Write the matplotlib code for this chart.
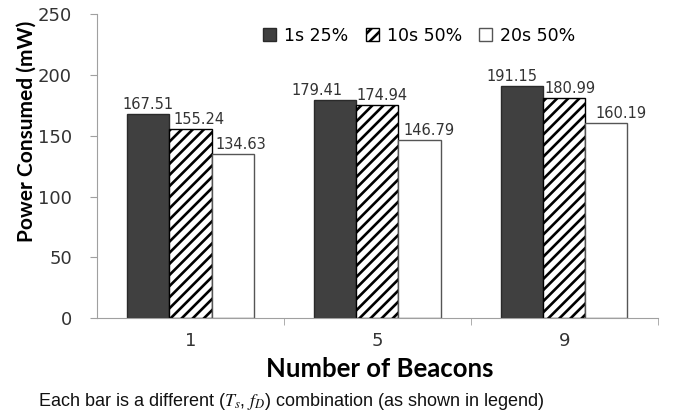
import numpy as np
import matplotlib.pyplot as plt

# data
beacons = ["1", "5", "9"]
series_names = ["1s 25%", "10s 50%", "20s 50%"]
power_1s_25 = [167.51, 179.41, 191.15]
power_10s_50 = [155.24, 174.94, 180.99]
power_20s_50 = [134.63, 146.79, 160.19]

# horizontal nudges of the value labels (pixels), one row per series
label_nudge = [[0, -18, -10], [8, 5, 6], [8, 10, 15]]

plt.rcParams["mathtext.fontset"] = "stix"
plt.rcParams["hatch.linewidth"] = 1.9

fig = plt.figure(figsize=(6.74, 4.17), dpi=100)
ax = fig.add_axes([0.144, 0.237, 0.832, 0.729])

x = np.arange(len(beacons))
w = 0.225
styles = [
    dict(color="#404040", edgecolor="#2a2a2a", hatch=None),
    dict(color="white", edgecolor="black", hatch="///"),
    dict(color="white", edgecolor="#555555", hatch=None),
]
all_vals = [power_1s_25, power_10s_50, power_20s_50]
for i, (vals, name, st) in enumerate(zip(all_vals, series_names, styles)):
    pos = x + (i - 1) * w
    ax.bar(pos, vals, width=w, label=name, linewidth=1.0, **st)
    for p, v, dx in zip(pos, vals, label_nudge[i]):
        ax.annotate(f"{v:.2f}", (p, v), xytext=(dx, 2), textcoords="offset pixels",
                    ha="center", va="bottom", fontsize=10.5, color="#333333")

ax.set_xlim(-0.5, 2.5)
ax.set_ylim(0, 250)
ax.set_yticks(range(0, 251, 50))
ax.set_xticks(x)
ax.set_xticklabels(beacons)
ax.set_xticks([0.5, 1.5, 2.5], minor=True)
ax.tick_params(axis="x", which="major", length=0, pad=10, labelsize=13, labelcolor="#333333")
ax.tick_params(axis="x", which="minor", length=5, color="#a0a0a0")
ax.tick_params(axis="y", length=5, color="#a0a0a0", labelsize=13, labelcolor="#333333", pad=13)

for s in ["top", "right"]:
    ax.spines[s].set_visible(False)
for s in ["left", "bottom"]:
    ax.spines[s].set_color("#a0a0a0")

ax.set_ylabel("Power Consumed (mW)", fontsize=15, fontweight="bold", family="Lato")
ax.yaxis.set_label_coords(-0.125, 0.615)
ax.yaxis.label.set_va("center")
ax.set_xlabel("Number of Beacons", fontsize=18.5, fontweight="bold", family="Lato")
ax.xaxis.set_label_coords(0.505, -0.168)
ax.xaxis.label.set_va("center")

fig.legend(loc="center", bbox_to_anchor=(0.622, 0.914), ncol=3, frameon=False,
           fontsize=12.5, handlelength=0.75, handleheight=0.75, handletextpad=0.45,
           columnspacing=1.0, borderpad=0)

fig.text(0.057, 0.036, r"Each bar is a different ($T_s$, $f_D$) combination (as shown in legend)",
         fontsize=13, family="Liberation Sans", color="#111111", va="center")

fig.savefig("out.png", dpi=100)
